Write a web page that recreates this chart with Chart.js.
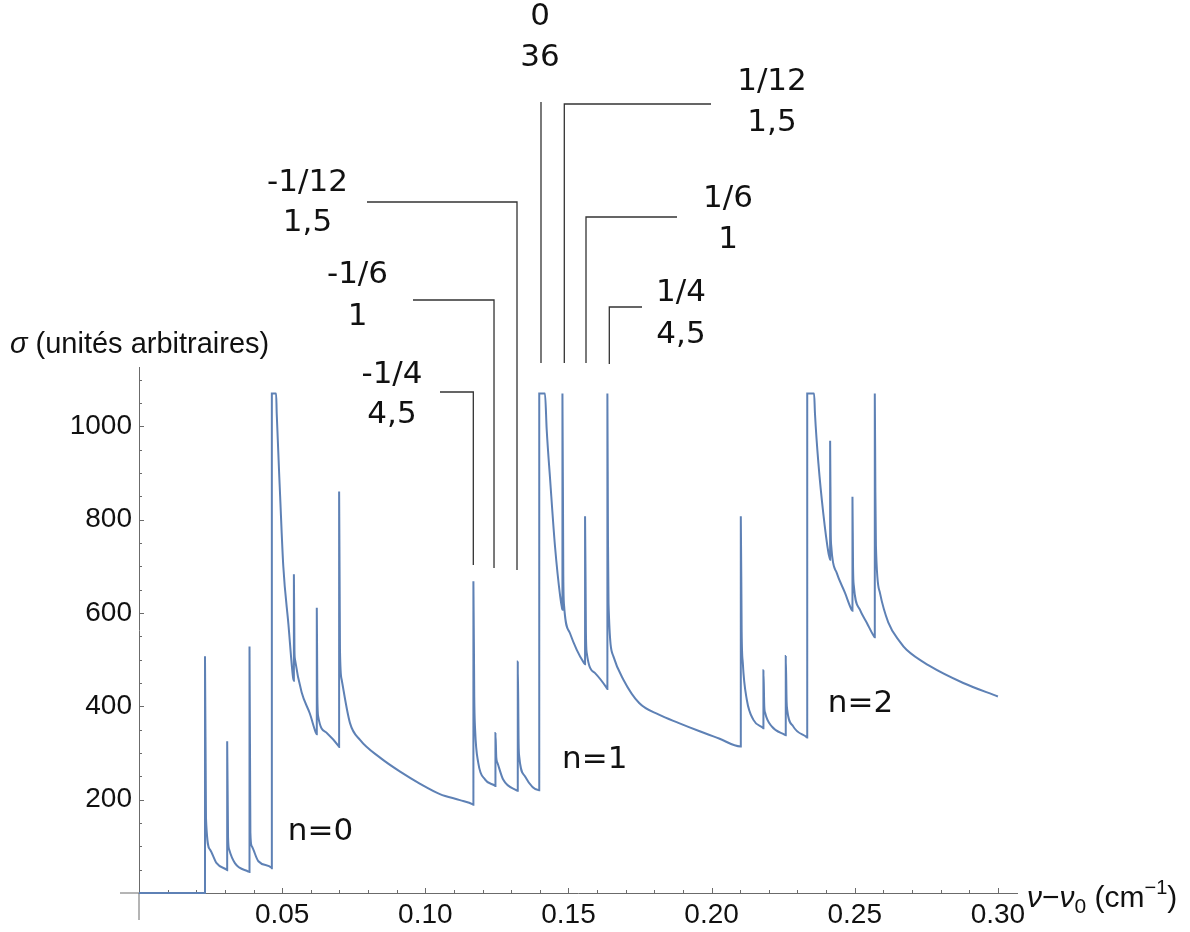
<!DOCTYPE html>
<html>
<head>
<meta charset="utf-8">
<script src="https://cdn.jsdelivr.net/npm/chart.js@4.4.1/dist/chart.umd.min.js"></script>
<style>
  html, body { margin: 0; padding: 0; background: #fff; }
  #wrap { position: relative; width: 1190px; height: 932px; }
</style>
</head>
<body>
<div id="wrap"><canvas id="spectre" width="1190" height="932"></canvas></div>
<script>
// spectre : abscisse nu - nu0 (cm-1), ordonnee sigma
// groupe n=0
var n0X = [0, 0.02305, 0.02305, 0.0234, 0.0248, 0.0271, 0.0306,
    0.0308, 0.0308, 0.0311, 0.0315, 0.0335, 0.0382,
    0.0386, 0.0386, 0.0389, 0.0394, 0.0417, 0.0463,
    0.0464, 0.0464, 0.0479, 0.0481, 0.0493, 0.0504, 0.0522, 0.0538,
    0.0541, 0.0541, 0.0543, 0.0545, 0.0568, 0.0597, 0.0618,
    0.0621, 0.0621, 0.0623, 0.0626, 0.0656, 0.0698,
    0.0699, 0.0699, 0.0702, 0.0708, 0.0737, 0.0772, 0.0842, 0.0912, 0.0982, 0.1051, 0.1121, 0.1166];
var n0Y = [0, 0, 507, 160, 93, 64, 50,
    49, 325, 120, 93, 64, 46,
    45, 528, 130, 100, 68, 54,
    53, 1070, 1070, 1028, 850, 700, 575, 462,
    455, 683, 520, 500, 430, 384, 343,
    340, 611, 420, 378, 343, 314,
    313, 860, 520, 457, 364, 328, 290, 260, 234, 212, 199, 190];

// groupe n=1
var n1X = [0.1168, 0.1168, 0.1171, 0.1174, 0.1185, 0.1209, 0.1243,
    0.1245, 0.1245, 0.1248, 0.1252, 0.1272, 0.1319,
    0.1323, 0.1323, 0.1326, 0.1328, 0.1348, 0.1397,
    0.1398, 0.1398, 0.1418, 0.1424, 0.1436, 0.1453, 0.1471, 0.1478,
    0.1479, 0.1479, 0.1482, 0.1485, 0.1505, 0.1529, 0.1554,
    0.1558, 0.1558, 0.1561, 0.1564, 0.1593, 0.1634,
    0.1636, 0.1636, 0.1638, 0.1640, 0.1657, 0.1692, 0.1747, 0.1816, 0.1886, 0.1956, 0.2026, 0.2101];
var n1Y = [189, 668, 420, 350, 279, 243, 230,
    229, 343, 290, 279, 243, 220,
    219, 496, 320, 293, 250, 220,
    220, 1070, 1070, 993, 886, 743, 636, 609,
    607, 1070, 680, 614, 557, 521, 493,
    490, 807, 560, 514, 471, 439,
    437, 1070, 760, 620, 507, 457, 407, 382, 364, 347, 331, 314];

// groupe n=2
var n2X = [0.2102, 0.2102, 0.2105, 0.2109, 0.2123, 0.2146, 0.2179,
    0.2181, 0.2181, 0.2184, 0.2187, 0.2210, 0.2256,
    0.2259, 0.2259, 0.2262, 0.2264, 0.2285, 0.2332,
    0.2334, 0.2334, 0.2358, 0.2361, 0.2373, 0.2390, 0.2408, 0.2413,
    0.2414, 0.2414, 0.2416, 0.2418, 0.2437, 0.2466, 0.2489,
    0.2492, 0.2492, 0.2494, 0.2497, 0.2518, 0.2542, 0.2567,
    0.2570, 0.2570, 0.2572, 0.2574, 0.2588, 0.2617, 0.2658, 0.2681, 0.2763, 0.2879, 0.3000];
var n2Y = [314, 807, 560, 493, 414, 371, 354,
    353, 477, 400, 386, 357, 339,
    338, 508, 410, 393, 357, 334,
    333, 1070, 1070, 1028, 921, 814, 729, 716,
    714, 969, 780, 743, 686, 643, 607,
    605, 849, 700, 657, 607, 579, 550,
    548, 1070, 860, 743, 643, 580, 538, 521, 486, 450, 421];

// graduations
var xMajor = [0.05, 0.10, 0.15, 0.20, 0.25, 0.30];
var xTickLabels = ['0.05', '0.10', '0.15', '0.20', '0.25', '0.30'];
var yMajor = [200, 400, 600, 800, 1000];
var yTickLabels = ['200', '400', '600', '800', '1000'];

// raies annotees du groupe n=1 : m, poids, position
var raieFrac = ['-1/4', '-1/6', '-1/12', '0', '1/12', '1/6', '1/4'];
var raiePoids = ['4,5', '1', '1,5', '36', '1,5', '1', '4,5'];
var raieX = [0.11677, 0.12400, 0.13203, 0.14041, 0.14855, 0.15613, 0.16427];

// etiquettes des groupes
var groupeTexte = ['n=0', 'n=1', 'n=2'];
var groupeX = [0.0634, 0.1592, 0.2520];
var groupeY = [131, 286, 405];

// mise en page des traits de rappel (pixels)
var repere = [
    {coudeY: 392, finX: 440, basY: 565, texteX: 392, texteY: [375, 415]},
    {coudeY: 300, finX: 413, basY: 568, texteX: 357.5, texteY: [275, 317]},
    {coudeY: 202, finX: 367, basY: 570, texteX: 307.5, texteY: [183, 223]},
    {coudeY: 102, finX: null, basY: 363, texteX: 540, texteY: [17, 58]},
    {coudeY: 104, finX: 711, basY: 363, texteX: 772, texteY: [82, 123]},
    {coudeY: 217, finX: 677, basY: 363, texteX: 728, texteY: [199, 240]},
    {coudeY: 307, finX: 642, basY: 364, texteX: 681, texteY: [293, 335]}
];

var axisColor = '#6b6b6b';
var textColor = '#111';
var lineColor = '#5e81b5';

function toPoints(xs, ys) {
    return xs.map(function (x, i) { return {x: x, y: ys[i]}; });
}

function nearIndex(list, v, eps) {
    for (var i = 0; i < list.length; i++) {
        if (Math.abs(list[i] - v) < eps) return i;
    }
    return -1;
}

var points = toPoints(n0X, n0Y).concat(toPoints(n1X, n1Y)).concat(toPoints(n2X, n2Y));

// petites graduations, bouts d'axes, titres et annotations
var decor = {
    id: 'decor',
    beforeDatasetsDraw: function (chart) {
        var ctx = chart.ctx, xs = chart.scales.x, ys = chart.scales.y;
        var x0 = xs.getPixelForValue(0), y0 = ys.getPixelForValue(0);
        ctx.save();
        ctx.strokeStyle = axisColor;
        ctx.lineWidth = 1;
        ctx.beginPath();
        ctx.moveTo(x0 - 19, y0);
        ctx.lineTo(x0, y0);
        ctx.moveTo(x0, y0);
        ctx.lineTo(x0, y0 + 27);
        ctx.stroke();

        xs.ticks.forEach(function (t) {
            if (Math.abs(t.value) < 1e-9) return;
            var major = nearIndex(xMajor, t.value, 1e-6) >= 0;
            var px = Math.round(xs.getPixelForValue(t.value)) + 0.5;
            ctx.beginPath();
            ctx.moveTo(px, y0);
            ctx.lineTo(px, y0 - (major ? 5 : 3));
            ctx.stroke();
        });
        ys.ticks.forEach(function (t) {
            if (Math.abs(t.value) < 1e-9) return;
            var major = nearIndex(yMajor, t.value, 1e-3) >= 0;
            var py = Math.round(ys.getPixelForValue(t.value)) + 0.5;
            ctx.beginPath();
            ctx.moveTo(x0, py);
            ctx.lineTo(x0 + (major ? 5 : 3), py);
            ctx.stroke();
        });
        ctx.restore();
    },
    afterDraw: function (chart) {
        var ctx = chart.ctx, xs = chart.scales.x, ys = chart.scales.y;
        ctx.save();

        // titre axe vertical
        ctx.fillStyle = textColor;
        ctx.textBaseline = 'alphabetic';
        ctx.textAlign = 'left';
        ctx.font = 'italic 29px "Liberation Sans"';
        ctx.fillText('\u03c3', 10, 353);
        var w = ctx.measureText('\u03c3').width;
        ctx.font = '29px "Liberation Sans"';
        ctx.fillText(' (unit\u00e9s arbitraires)', 10 + w, 353);

        // titre axe horizontal
        var bx = xs.getPixelForValue(xs.max) + 10, by = 907;
        var parts = [
            {t: '\u03bd', f: 'italic 30px "Liberation Sans"', dy: 0},
            {t: '\u2212', f: '30px "Liberation Sans"', dy: 0},
            {t: '\u03bd', f: 'italic 30px "Liberation Sans"', dy: 0},
            {t: '0', f: '21px "Liberation Sans"', dy: 6},
            {t: ' (cm', f: '30px "Liberation Sans"', dy: 0},
            {t: '\u22121', f: '20px "Liberation Sans"', dy: -13},
            {t: ')', f: '30px "Liberation Sans"', dy: 0}
        ];
        parts.forEach(function (p) {
            ctx.font = p.f;
            ctx.fillText(p.t, bx, by + p.dy);
            bx += ctx.measureText(p.t).width;
        });

        // etiquettes n=
        ctx.font = '31px "DejaVu Sans"';
        ctx.textAlign = 'center';
        ctx.textBaseline = 'middle';
        groupeTexte.forEach(function (s, i) {
            ctx.fillText(s, xs.getPixelForValue(groupeX[i]), ys.getPixelForValue(groupeY[i]));
        });

        // traits de rappel des raies
        ctx.strokeStyle = '#333';
        ctx.lineWidth = 1.3;
        raieX.forEach(function (v, i) {
            var r = repere[i];
            var px = xs.getPixelForValue(v);
            ctx.beginPath();
            ctx.moveTo(r.finX === null ? px : r.finX, r.coudeY);
            ctx.lineTo(px, r.coudeY);
            ctx.lineTo(px, r.basY);
            ctx.stroke();
            ctx.fillText(raieFrac[i], r.texteX, r.texteY[0]);
            ctx.fillText(raiePoids[i], r.texteX, r.texteY[1]);
        });
        ctx.restore();
    }
};

var ctx = document.getElementById('spectre').getContext('2d');
var chart = new Chart(ctx, {
    type: 'line',
    data: {
        datasets: [{
            data: points,
            borderColor: lineColor,
            borderWidth: 2,
            pointRadius: 0,
            fill: false,
            cubicInterpolationMode: 'monotone',
            clip: false
        }]
    },
    options: {
        responsive: false,
        animation: false,
        layout: {padding: {left: 0, top: 367, right: 173, bottom: 0}},
        plugins: {
            legend: {display: false},
            tooltip: {enabled: false}
        },
        scales: {
            x: {
                type: 'linear',
                min: 0,
                max: 0.30667,
                grid: {display: false, drawTicks: false},
                border: {display: true, color: axisColor, width: 1},
                afterFit: function (s) { s.height = 39; },
                ticks: {
                    stepSize: 0.01,
                    includeBounds: false,
                    autoSkip: false,
                    maxRotation: 0,
                    padding: 5,
                    color: textColor,
                    font: {family: '"Liberation Sans"', size: 28},
                    callback: function (v) {
                        var i = nearIndex(xMajor, v, 1e-6);
                        return i >= 0 ? xTickLabels[i] : '';
                    }
                }
            },
            y: {
                type: 'linear',
                min: 0,
                max: 1127,
                grid: {display: false, drawTicks: false},
                border: {display: true, color: axisColor, width: 1},
                afterFit: function (s) { s.width = 139; },
                ticks: {
                    stepSize: 50,
                    includeBounds: false,
                    autoSkip: false,
                    padding: 7,
                    color: textColor,
                    font: {family: '"Liberation Sans"', size: 28},
                    callback: function (v) {
                        var i = nearIndex(yMajor, v, 1e-3);
                        return i >= 0 ? yTickLabels[i] : '';
                    }
                }
            }
        }
    },
    plugins: [decor]
});
</script>
</body>
</html>
